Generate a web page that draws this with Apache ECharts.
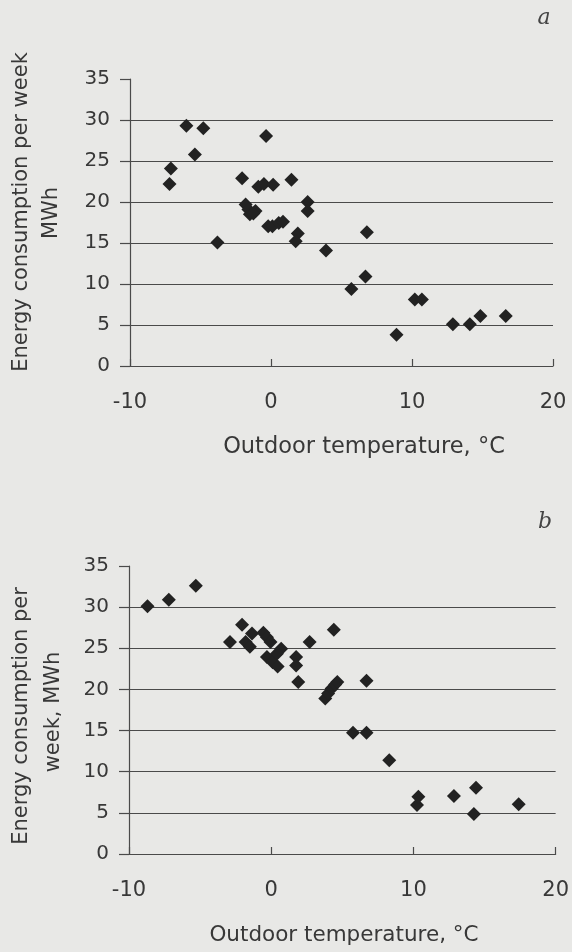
<!DOCTYPE html>
<html>
<head>
<meta charset="utf-8">
<script src="https://cdn.jsdelivr.net/npm/echarts@6/dist/echarts.min.js"></script>
<style>
html,body{margin:0;padding:0;background:#e8e8e6;}
#c{width:572px;height:952px;}
</style>
</head>
<body>
<div id="c"></div>
<script>
// Chart a: outdoor temperature (°C) vs energy consumption per week (MWh)
var tempA = [-6.0, -4.8, -0.35, -5.4, -7.1, -7.2, -2.05, 1.45, -0.9, -0.5, 0.15, -1.8, -1.6, -1.5, -1.1, -1.25, 2.6, 2.6, -3.8, -0.2, 0.1, 0.55, 0.85, 1.9, 1.75, 6.8, 3.9, 5.7, 6.7, 8.9, 10.2, 10.7, 12.9, 14.1, 14.85, 16.65];
var energyA = [29.3, 29.0, 28.05, 25.8, 24.1, 22.2, 22.9, 22.7, 21.85, 22.2, 22.1, 19.7, 19.1, 18.5, 18.9, 18.6, 20.0, 18.9, 15.05, 17.05, 17.05, 17.45, 17.6, 16.15, 15.2, 16.3, 14.1, 9.4, 10.9, 3.8, 8.1, 8.1, 5.1, 5.1, 6.1, 6.1];
// Chart b
var tempB = [-8.7, -7.2, -5.3, -2.05, -2.9, -1.8, -1.35, -1.5, -0.55, -0.3, -0.05, -0.3, 0.1, 0.7, 0.4, 0.45, 2.7, 1.75, 1.75, 1.9, 4.4, 3.8, 4.0, 4.25, 4.5, 4.65, 6.7, 5.75, 6.7, 8.3, 10.25, 10.35, 12.85, 14.4, 14.25, 17.4];
var energyB = [30.1, 30.9, 32.6, 27.85, 25.75, 25.75, 26.8, 25.2, 26.9, 26.35, 25.75, 23.95, 23.3, 24.95, 24.35, 22.8, 25.75, 23.95, 22.9, 20.9, 27.25, 18.9, 19.5, 20.1, 20.6, 20.9, 21.05, 14.75, 14.75, 11.4, 5.95, 6.95, 7.05, 8.05, 4.85, 6.05];
var xTicks = [-10, 0, 10, 20];
var yTicks = [0, 5, 10, 15, 20, 25, 30, 35];

function pairs(xs, ys) { return xs.map(function (x, i) { return [x, ys[i]]; }); }

var FONT = 'DejaVu Sans';
var TXT = '#383838';
var LINE = '#4a4a4a';
var gridCols = yTicks.map(function (t, i) { return i === yTicks.length - 1 ? 'rgba(0,0,0,0)' : LINE; });

function xAxisCfg(idx) {
  return {
    gridIndex: idx, type: 'value', min: xTicks[0], max: xTicks[xTicks.length - 1], interval: 10,
    axisLine: { show: true, onZero: false, lineStyle: { color: LINE, width: 1.2 } },
    axisTick: { show: true, inside: true, length: 7, lineStyle: { color: LINE, width: 1.2 } },
    axisLabel: { color: TXT, fontFamily: FONT, fontSize: 21, margin: 26 },
    splitLine: { show: false }
  };
}
function yAxisCfg(idx) {
  return {
    gridIndex: idx, type: 'value', min: yTicks[0], max: yTicks[yTicks.length - 1], interval: 5,
    axisLine: { show: true, onZero: false, lineStyle: { color: LINE, width: 1.2 } },
    axisTick: { show: true, inside: false, length: 10, lineStyle: { color: LINE, width: 1.2 } },
    axisLabel: { color: TXT, fontFamily: FONT, fontSize: 20, margin: 20 },
    splitLine: { show: true, lineStyle: { color: gridCols, width: 1.2 } }
  };
}
function scatter(idx, data) {
  return {
    type: 'scatter', xAxisIndex: idx, yAxisIndex: idx, data: data,
    symbol: 'diamond', symbolSize: [14, 14],
    itemStyle: { color: '#222222', opacity: 1 }, silent: true
  };
}
function txt(x, y, s, size, rot) {
  var st = { text: s, fill: TXT, font: size + 'px "' + FONT + '"', textAlign: 'center', textVerticalAlign: 'middle' };
  return { type: 'text', x: x, y: y, rotation: rot || 0, style: st, silent: true };
}

var chart = echarts.init(document.getElementById('c'), null, { renderer: 'canvas' });
chart.setOption({
  backgroundColor: '#e8e8e6',
  animation: false,
  grid: [
    { left: 130, right: 19, top: 79, bottom: 586 },
    { left: 129, right: 13, top: 566, bottom: 98 }
  ],
  xAxis: [xAxisCfg(0), xAxisCfg(1)],
  yAxis: [yAxisCfg(0), yAxisCfg(1)],
  series: [scatter(0, pairs(tempA, energyA)), scatter(1, pairs(tempB, energyB))],
  graphic: [
    txt(22, 212, 'Energy consumption per week', 21, Math.PI / 2),
    txt(52, 213, 'MWh', 21, Math.PI / 2),
    txt(364, 447, 'Outdoor temperature, °C', 22.5, 0),
    txt(22, 716, 'Energy consumption per', 21, Math.PI / 2),
    txt(54, 712, 'week, MWh', 21, Math.PI / 2),
    txt(344, 935, 'Outdoor temperature, °C', 21.5, 0),
    { type: 'text', x: 544, y: 18, style: { text: 'a', fill: '#444', font: 'italic 22px "DejaVu Serif"', textAlign: 'center', textVerticalAlign: 'middle' } },
    { type: 'text', x: 545, y: 522, style: { text: 'b', fill: '#444', font: 'italic 22px "DejaVu Serif"', textAlign: 'center', textVerticalAlign: 'middle' } }
  ]
});
</script>
</body>
</html>
